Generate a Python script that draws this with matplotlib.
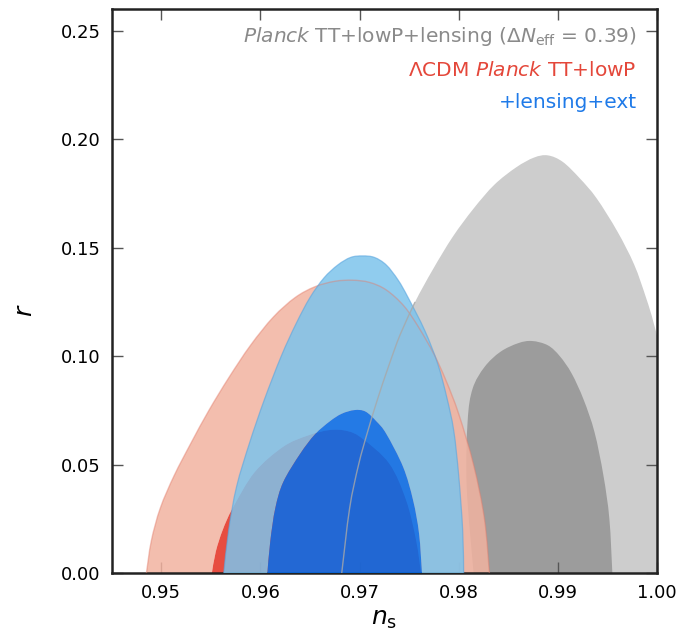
import numpy as np
import matplotlib.pyplot as plt
from matplotlib.path import Path
from matplotlib.patches import PathPatch

# contour outlines, as (n_s, r) points
# grey: Planck TT+lowP+lensing with Delta N_eff = 0.39
grey_out_ns = [0.9682, 0.9690, 0.9699, 0.9708, 0.9718, 0.9729, 0.9741, 0.9756, 0.9774, 0.9794,
               0.9815, 0.9836, 0.9858, 0.9876, 0.9890, 0.9905, 0.9922, 0.9939, 0.9960, 0.9977,
               0.9989, 0.9997, 1.0010, 1.0018, 1.0020]
grey_out_r = [0.0, 0.030, 0.050, 0.065, 0.080, 0.095, 0.110, 0.125, 0.140, 0.155,
              0.168, 0.179, 0.187, 0.1915, 0.1925, 0.1895, 0.1820, 0.1728, 0.1575, 0.1422,
              0.1269, 0.1147, 0.090, 0.050, 0.0]
grey_in_ns = [0.9815, 0.9808, 0.9809, 0.9814, 0.9826, 0.9842, 0.9860, 0.9874, 0.9890, 0.9902,
              0.9914, 0.9926, 0.9937, 0.9946, 0.9952, 0.9955]
grey_in_r = [0.0, 0.040, 0.070, 0.085, 0.095, 0.102, 0.106, 0.107, 0.105, 0.100,
             0.092, 0.080, 0.065, 0.045, 0.025, 0.0]

# red: LCDM Planck TT+lowP
red_out_ns = [0.9485, 0.9490, 0.9499, 0.9513, 0.9530, 0.9548, 0.9568, 0.9590, 0.9613, 0.9635,
              0.9655, 0.9675, 0.9693, 0.9710, 0.9727, 0.9745, 0.9760, 0.9775, 0.9787, 0.9800,
              0.9815, 0.9826, 0.9831]
red_out_r = [0.0, 0.015, 0.030, 0.045, 0.060, 0.075, 0.090, 0.105, 0.118, 0.127,
             0.132, 0.1345, 0.1350, 0.1340, 0.1305, 0.1230, 0.1130, 0.1010, 0.0890, 0.0734,
             0.050, 0.025, 0.0]
red_in_ns = [0.9551, 0.9555, 0.9562, 0.9572, 0.9594, 0.9623, 0.9648, 0.9670, 0.9688, 0.9703,
             0.9730, 0.9747, 0.9757, 0.9762]
red_in_r = [0.0, 0.010, 0.020, 0.030, 0.0465, 0.0583, 0.0635, 0.0660, 0.0655, 0.0620,
            0.0505, 0.0336, 0.0153, 0.0]

# blue: +lensing+ext
blue_out_ns = [0.9563, 0.9568, 0.9576, 0.9589, 0.9604, 0.9621, 0.9636, 0.9650, 0.9664, 0.9678,
               0.9691, 0.9703, 0.9715, 0.9727, 0.9739, 0.9749, 0.9766, 0.9779, 0.9788, 0.9795,
               0.9800, 0.9804, 0.9805]
blue_out_r = [0.0, 0.020, 0.040, 0.060, 0.080, 0.100, 0.115, 0.127, 0.136, 0.142,
              0.1455, 0.1462, 0.1455, 0.1420, 0.1350, 0.1270, 0.1116, 0.0963, 0.0810, 0.0657,
              0.045, 0.020, 0.0]
blue_in_ns = [0.9607, 0.9610, 0.9615, 0.9623, 0.9640, 0.9655, 0.9670, 0.9682, 0.9695, 0.9706,
              0.9717, 0.9727, 0.9744, 0.9754, 0.9760, 0.9763]
blue_in_r = [0.0, 0.015, 0.030, 0.042, 0.055, 0.064, 0.070, 0.0735, 0.0752, 0.0745,
             0.0700, 0.0642, 0.0489, 0.0336, 0.0183, 0.0]

xticks = [0.95, 0.96, 0.97, 0.98, 0.99, 1.00]
yticks = [0.00, 0.05, 0.10, 0.15, 0.20, 0.25]


def curve(xs, ys, close=True):
    # smooth bezier path through the read-off points, shut along the bottom
    p = np.column_stack([xs, ys])
    n = len(p)
    verts = [p[0]]
    codes = [Path.MOVETO]
    for i in range(n - 1):
        p0 = p[i - 1] if i > 0 else p[i]
        p3 = p[i + 2] if i + 2 < n else p[i + 1]
        verts += [p[i] + (p[i + 1] - p0) / 6, p[i + 1] - (p3 - p[i]) / 6, p[i + 1]]
        codes += [Path.CURVE4] * 3
    if close:
        verts += [p[0], p[0]]
        codes += [Path.LINETO, Path.CLOSEPOLY]
    return Path(verts, codes)


def ring(ax, ons, orr, ins, irr, c_out, c_in, alpha, z):
    # outer band with the inner region cut out, so the two levels do not stack
    band = Path.make_compound_path(curve(ons, orr), curve(ins[::-1], irr[::-1]))
    ax.add_patch(PathPatch(band, facecolor=c_out, edgecolor='none', alpha=alpha, zorder=z))
    ax.add_patch(PathPatch(curve(ins, irr), facecolor=c_in, edgecolor='none', alpha=alpha, zorder=z))


fig = plt.figure(figsize=(6.87, 6.41), dpi=100)
ax = fig.add_axes([0.1626, 0.1056, 0.7937, 0.8806])

ax.add_patch(PathPatch(curve(grey_out_ns, grey_out_r), facecolor='#cdcdcd', edgecolor='none', zorder=1))
ax.add_patch(PathPatch(curve(grey_in_ns, grey_in_r), facecolor='#9c9c9c', edgecolor='none', zorder=1.1))
ring(ax, red_out_ns, red_out_r, red_in_ns, red_in_r, '#f2b3a0', '#e32e1e', 0.85, 2)
ring(ax, blue_out_ns, blue_out_r, blue_in_ns, blue_in_r, '#7dc3ec', '#006eef', 0.85, 3)

# outlines that show through the upper layers
ax.add_patch(PathPatch(curve(red_out_ns, red_out_r, False), fill=False,
                       edgecolor='#e27d6c', lw=1.0, alpha=0.45, zorder=4))
ax.add_patch(PathPatch(curve(blue_out_ns, blue_out_r, False), fill=False,
                       edgecolor='#5aa6df', lw=0.9, alpha=0.6, zorder=4))
ax.add_patch(PathPatch(curve(grey_out_ns[:8], grey_out_r[:8], False), fill=False,
                       edgecolor='#a8a8a8', lw=1.0, alpha=0.8, zorder=4))

ax.set_xlim(0.945, 1.0)
ax.set_ylim(0.0, 0.26)
ax.set_xticks(xticks)
ax.set_xticklabels(['%.2f' % v for v in xticks])
ax.set_yticks(yticks)
ax.set_yticklabels(['%.2f' % v for v in yticks])
ax.tick_params(direction='in', length=8, width=1, color='#555555', top=True, right=True,
               labelsize=13, pad=8)
for s in ax.spines.values():
    s.set_linewidth(1.8)
    s.set_color('#222222')

ax.set_xlabel(r'$n_{\rm s}$', fontsize=18, labelpad=3)
ax.set_ylabel(r'$r$', fontsize=18)
ax.yaxis.set_label_coords(-0.137, 0.466)

ax.text(0.963, 0.951, r'$\mathit{Planck}$ TT+lowP+lensing ($\Delta N_{\rm eff}$ = 0.39)',
        transform=ax.transAxes, ha='right', va='center', fontsize=14.5, color='#8a8a8a', zorder=6)
ax.text(0.963, 0.890, r'$\Lambda$CDM $\mathit{Planck}$ TT+lowP',
        transform=ax.transAxes, ha='right', va='center', fontsize=14.5, color='#e4473a', zorder=6)
ax.text(0.963, 0.834, '+lensing+ext',
        transform=ax.transAxes, ha='right', va='center', fontsize=14.5, color='#1f7ae8', zorder=6)

fig.savefig('out.png', dpi=100)
